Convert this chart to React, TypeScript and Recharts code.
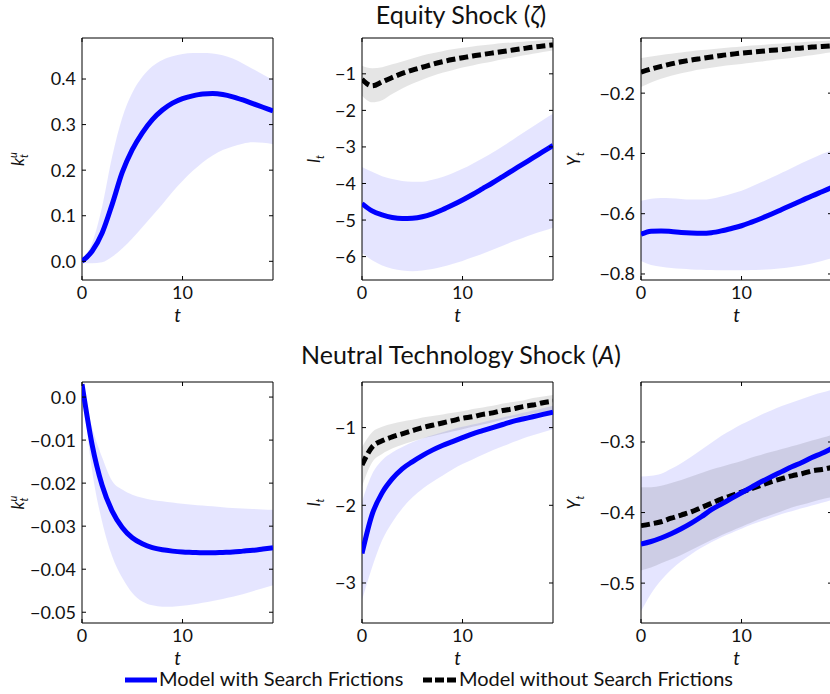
import React from "react";
import { ComposedChart, Area, Line, XAxis, YAxis, ReferenceArea } from "recharts";

// periods of the impulse responses
const periods = [0, 1, 2, 3, 4, 5, 6, 7, 8, 9, 10, 11, 12, 13, 14, 15, 16, 17, 18, 19];
const xTicks = [0, 10];
const xTickLabels = ["0", "10"];

// Equity shock, k^u
const eqKBlue = [0.0, 0.022, 0.062, 0.125, 0.195, 0.245, 0.282, 0.311, 0.332, 0.347, 0.357, 0.363, 0.367, 0.368, 0.366, 0.361, 0.354, 0.346, 0.338, 0.33];
const eqKBlueHi = [0.005, 0.04, 0.12, 0.23, 0.315, 0.37, 0.405, 0.428, 0.442, 0.45, 0.455, 0.457, 0.457, 0.456, 0.452, 0.445, 0.434, 0.422, 0.41, 0.398];
const eqKBlueLo = [-0.004, -0.004, -0.002, 0.01, 0.028, 0.05, 0.075, 0.1, 0.125, 0.152, 0.176, 0.198, 0.217, 0.232, 0.244, 0.252, 0.258, 0.261, 0.26, 0.257];

// Equity shock, l
const eqLBlue = [-4.55, -4.75, -4.86, -4.93, -4.96, -4.95, -4.91, -4.83, -4.72, -4.59, -4.45, -4.3, -4.14, -3.98, -3.81, -3.64, -3.47, -3.3, -3.13, -2.96];
const eqLBlueHi = [-3.55, -3.68, -3.8, -3.88, -3.93, -3.95, -3.95, -3.9, -3.82, -3.72, -3.6, -3.46, -3.31, -3.15, -2.98, -2.8, -2.62, -2.44, -2.26, -2.09];
const eqLBlueLo = [-5.9, -6.1, -6.24, -6.33, -6.38, -6.4, -6.38, -6.34, -6.28, -6.2, -6.12, -6.02, -5.92, -5.81, -5.7, -5.59, -5.49, -5.39, -5.3, -5.21];
const eqLBlack = [-1.15, -1.33, -1.22, -1.1, -0.99, -0.9, -0.82, -0.74, -0.67, -0.61, -0.56, -0.51, -0.47, -0.43, -0.39, -0.35, -0.31, -0.27, -0.24, -0.21];
const eqLBlackHi = [-0.78, -0.85, -0.82, -0.74, -0.66, -0.58, -0.5, -0.44, -0.38, -0.33, -0.29, -0.25, -0.22, -0.19, -0.16, -0.14, -0.12, -0.1, -0.08, -0.07];
const eqLBlackLo = [-1.6, -1.78, -1.72, -1.55, -1.4, -1.27, -1.16, -1.06, -0.97, -0.9, -0.83, -0.77, -0.71, -0.66, -0.6, -0.55, -0.5, -0.45, -0.4, -0.36];

// Equity shock, Y
const eqYBlue = [-0.668, -0.658, -0.657, -0.659, -0.662, -0.664, -0.665, -0.663, -0.657, -0.649, -0.64, -0.628, -0.615, -0.601, -0.586, -0.571, -0.556, -0.541, -0.527, -0.513];
const eqYBlueHi = [-0.557, -0.55, -0.548, -0.549, -0.551, -0.553, -0.553, -0.55, -0.543, -0.534, -0.524, -0.51, -0.495, -0.48, -0.464, -0.448, -0.432, -0.417, -0.402, -0.39];
const eqYBlueLo = [-0.757, -0.77, -0.776, -0.78, -0.783, -0.785, -0.786, -0.787, -0.788, -0.788, -0.788, -0.787, -0.786, -0.784, -0.781, -0.777, -0.772, -0.765, -0.757, -0.748];
const eqYBlack = [-0.13, -0.12, -0.111, -0.103, -0.096, -0.09, -0.085, -0.08, -0.075, -0.071, -0.067, -0.064, -0.061, -0.058, -0.055, -0.052, -0.05, -0.047, -0.045, -0.043];
const eqYBlackHi = [-0.083, -0.078, -0.073, -0.069, -0.065, -0.061, -0.057, -0.054, -0.051, -0.048, -0.045, -0.042, -0.04, -0.037, -0.035, -0.033, -0.031, -0.029, -0.027, -0.025];
const eqYBlackLo = [-0.18, -0.165, -0.152, -0.142, -0.134, -0.127, -0.121, -0.116, -0.111, -0.107, -0.103, -0.099, -0.095, -0.091, -0.087, -0.083, -0.078, -0.074, -0.069, -0.064];

// Neutral technology shock, k^u
const tcKBlue = [0.003, -0.011, -0.0205, -0.0265, -0.0303, -0.0327, -0.0341, -0.035, -0.0355, -0.0358, -0.036, -0.0361, -0.0362, -0.0362, -0.0361, -0.036, -0.0358, -0.0356, -0.0353, -0.035];
const tcKBlueHi = [0.003, -0.007, -0.014, -0.0195, -0.0215, -0.0227, -0.0234, -0.0239, -0.0242, -0.0245, -0.0248, -0.025, -0.0252, -0.0254, -0.0256, -0.0258, -0.0259, -0.026, -0.0261, -0.0262];
const tcKBlueLo = [0.003, -0.017, -0.029, -0.037, -0.042, -0.0455, -0.0475, -0.0484, -0.0487, -0.0487, -0.0485, -0.0482, -0.0478, -0.0474, -0.0469, -0.0464, -0.0458, -0.0451, -0.0444, -0.0437];

// Neutral technology shock, l
const tcLBlue = [-2.62, -2.12, -1.84, -1.66, -1.53, -1.44, -1.36, -1.29, -1.23, -1.18, -1.13, -1.08, -1.04, -1.0, -0.96, -0.92, -0.89, -0.86, -0.83, -0.8];
const tcLBlueHi = [-1.95, -1.6, -1.42, -1.32, -1.25, -1.19, -1.14, -1.1, -1.06, -1.02, -0.99, -0.96, -0.93, -0.9, -0.87, -0.84, -0.81, -0.78, -0.75, -0.72];
const tcLBlueLo = [-3.22, -2.8, -2.45, -2.22, -2.04, -1.9, -1.79, -1.7, -1.62, -1.54, -1.47, -1.41, -1.35, -1.29, -1.24, -1.19, -1.14, -1.1, -1.06, -1.02];
const tcLBlack = [-1.48, -1.25, -1.17, -1.12, -1.08, -1.04, -1.0, -0.97, -0.94, -0.91, -0.88, -0.86, -0.83, -0.81, -0.78, -0.76, -0.73, -0.71, -0.68, -0.66];
const tcLBlackHi = [-1.25, -1.06, -0.99, -0.95, -0.92, -0.9, -0.87, -0.85, -0.83, -0.81, -0.79, -0.76, -0.74, -0.72, -0.69, -0.67, -0.65, -0.62, -0.6, -0.58];
const tcLBlackLo = [-1.76, -1.45, -1.34, -1.27, -1.22, -1.18, -1.14, -1.11, -1.08, -1.05, -1.02, -0.99, -0.96, -0.93, -0.9, -0.87, -0.85, -0.82, -0.8, -0.77];

// Neutral technology shock, Y
const tcYBlue = [-0.4445, -0.441, -0.436, -0.43, -0.423, -0.415, -0.406, -0.396, -0.388, -0.38, -0.372, -0.364, -0.356, -0.349, -0.342, -0.335, -0.329, -0.322, -0.316, -0.309];
const tcYBlueHi = [-0.349, -0.348, -0.345, -0.338, -0.33, -0.321, -0.311, -0.301, -0.291, -0.283, -0.275, -0.268, -0.261, -0.255, -0.249, -0.244, -0.239, -0.234, -0.23, -0.226];
const tcYBlueLo = [-0.54, -0.515, -0.496, -0.481, -0.469, -0.459, -0.45, -0.442, -0.435, -0.429, -0.423, -0.417, -0.412, -0.407, -0.402, -0.398, -0.394, -0.39, -0.386, -0.382];
const tcYBlack = [-0.4186, -0.416, -0.413, -0.408, -0.4035, -0.399, -0.393, -0.387, -0.381, -0.376, -0.371, -0.366, -0.361, -0.356, -0.352, -0.348, -0.345, -0.341, -0.339, -0.336];
const tcYBlackHi = [-0.364, -0.364, -0.362, -0.358, -0.354, -0.349, -0.344, -0.339, -0.335, -0.331, -0.327, -0.322, -0.318, -0.314, -0.31, -0.306, -0.302, -0.298, -0.294, -0.29];
const tcYBlackLo = [-0.482, -0.478, -0.472, -0.466, -0.46, -0.453, -0.446, -0.439, -0.432, -0.426, -0.42, -0.414, -0.408, -0.403, -0.398, -0.393, -0.389, -0.385, -0.381, -0.378];

// y ticks and labels per panel
const eqKTicks = [0, 0.1, 0.2, 0.3, 0.4];
const eqKLabels = ["0.0", "0.1", "0.2", "0.3", "0.4"];
const eqLTicks = [-6, -5, -4, -3, -2, -1];
const eqLLabels = ["\u22126", "\u22125", "\u22124", "\u22123", "\u22122", "\u22121"];
const eqYTicks = [-0.8, -0.6, -0.4, -0.2];
const eqYLabels = ["\u22120.8", "\u22120.6", "\u22120.4", "\u22120.2"];
const tcKTicks = [-0.05, -0.04, -0.03, -0.02, -0.01, 0];
const tcKLabels = ["\u22120.05", "\u22120.04", "\u22120.03", "\u22120.02", "\u22120.01", "0.0"];
const tcLTicks = [-3, -2, -1];
const tcLLabels = ["\u22123", "\u22122", "\u22121"];
const tcYTicks = [-0.5, -0.4, -0.3];
const tcYLabels = ["\u22120.5", "\u22120.4", "\u22120.3"];

const FONT = "Lato, 'Open Sans', sans-serif";
const BLUE = "#0000ff";
const INK = "#111";
const PLOT_W = 191;
const AXIS_W = 70;
const PAD = 10;
const XAX_H = 50;
const GAP = 6;
const TICK = 4;
const TICK_FS = 18;

type Row = { t: number; blue: number; blueBand: [number, number]; black?: number; blackBand?: [number, number] };

function makeRows(blue: number[], lo: number[], hi: number[], black?: number[], bLo?: number[], bHi?: number[]): Row[] {
  return periods.map((t, i) => ({
    t,
    blue: blue[i],
    blueBand: [lo[i], hi[i]],
    black: black ? black[i] : undefined,
    blackBand: bLo && bHi ? [bLo[i], bHi[i]] : undefined,
  }));
}

function YTick(props: any) {
  const { x, y, payload, ticks, labels } = props;
  const edge = x + GAP;
  const i = ticks.indexOf(payload.value);
  return (
    <g>
      <line x1={edge} x2={edge + TICK} y1={y} y2={y} stroke="#000" />
      <line x1={edge + PLOT_W - TICK} x2={edge + PLOT_W} y1={y} y2={y} stroke="#000" />
      <text x={x} y={y} dy="0.36em" textAnchor="end" fontSize={TICK_FS} fontFamily={FONT} fill={INK}>
        {labels[i]}
      </text>
    </g>
  );
}

function XTick(props: any) {
  const { x, y, payload, plotH } = props;
  const bottom = y - GAP;
  const i = xTicks.indexOf(payload.value);
  return (
    <g>
      <line x1={x} x2={x} y1={bottom} y2={bottom - TICK} stroke="#000" />
      <line x1={x} x2={x} y1={bottom - plotH} y2={bottom - plotH + TICK} stroke="#000" />
      <text x={x} y={y} dy="0.72em" textAnchor="middle" fontSize={TICK_FS} fontFamily={FONT} fill={INK}>
        {xTickLabels[i]}
      </text>
    </g>
  );
}

function Panel(p: {
  left: number; top: number; plotH: number; rows: Row[];
  domain: [number, number]; ticks: number[]; labels: string[]; withBlack: boolean;
}) {
  const width = AXIS_W + PLOT_W + PAD;
  const height = PAD + p.plotH + XAX_H;
  return (
    <div style={{ position: "absolute", left: p.left - AXIS_W, top: p.top - PAD }}>
      <ComposedChart width={width} height={height} data={p.rows} margin={{ top: PAD, right: PAD, bottom: 0, left: 0 }}>
        <XAxis
          dataKey="t" type="number" domain={[0, 19]} ticks={xTicks} interval={0} allowDataOverflow
          axisLine={false} tickLine={false} tickSize={0} tickMargin={GAP} height={XAX_H}
          tick={(tp: any) => <XTick {...tp} plotH={p.plotH} />}
        />
        <YAxis
          type="number" domain={p.domain} ticks={p.ticks} interval={0} allowDataOverflow
          axisLine={false} tickLine={false} tickSize={0} tickMargin={GAP} width={AXIS_W}
          tick={(tp: any) => <YTick {...tp} ticks={p.ticks} labels={p.labels} />}
        />
        <Area dataKey="blueBand" type="monotone" stroke="none" fill={BLUE} fillOpacity={0.1} isAnimationActive={false} />
        {p.withBlack && (
          <Area dataKey="blackBand" type="monotone" stroke="none" fill="#000" fillOpacity={0.1} isAnimationActive={false} />
        )}
        {p.withBlack && (
          <Line dataKey="black" type="monotone" stroke="#000" strokeWidth={5} strokeDasharray="9 4" dot={false} isAnimationActive={false} />
        )}
        <Line dataKey="blue" type="monotone" stroke={BLUE} strokeWidth={5} dot={false} isAnimationActive={false} />
        <ReferenceArea x1={0} x2={19} y1={p.domain[0]} y2={p.domain[1]} fill="none" stroke="#000" strokeWidth={1} ifOverflow="visible" />
      </ComposedChart>
    </div>
  );
}

const COL_LEFT = [82, 362, 641];
const ROW_TOP = [38, 382];
const ROW_H = [242, 241];
// distance from plot's left edge to the rotated label's baseline
const LABEL_DIST = [58, 42, 61];

function RotLabel({ cx, cy, base, sub, sup }: { cx: number; cy: number; base: string; sub: string; sup?: string }) {
  return (
    <text transform={`translate(${cx},${cy}) rotate(-90)`} textAnchor="middle" fontSize={17} fontStyle="italic" fontFamily={FONT} fill={INK}>
      {base}
      {sup ? (
        <>
          <tspan fontSize={11} dy={-7}>{sup}</tspan>
          <tspan fontSize={11} dx={-6} dy={11}>{sub}</tspan>
        </>
      ) : (
        <tspan fontSize={11} dy={4}>{sub}</tspan>
      )}
    </text>
  );
}

export default function App() {
  const eqK = makeRows(eqKBlue, eqKBlueLo, eqKBlueHi);
  const eqL = makeRows(eqLBlue, eqLBlueLo, eqLBlueHi, eqLBlack, eqLBlackLo, eqLBlackHi);
  const eqY = makeRows(eqYBlue, eqYBlueLo, eqYBlueHi, eqYBlack, eqYBlackLo, eqYBlackHi);
  const tcK = makeRows(tcKBlue, tcKBlueLo, tcKBlueHi);
  const tcL = makeRows(tcLBlue, tcLBlueLo, tcLBlueHi, tcLBlack, tcLBlackLo, tcLBlackHi);
  const tcY = makeRows(tcYBlue, tcYBlueLo, tcYBlueHi, tcYBlack, tcYBlackLo, tcYBlackHi);

  const midY0 = ROW_TOP[0] + ROW_H[0] / 2;
  const midY1 = ROW_TOP[1] + ROW_H[1] / 2;

  return (
    <div style={{ position: "absolute", left: 0, top: 0, width: 830, height: 694, overflow: "hidden", background: "#fff", fontFamily: FONT }}>
      <Panel left={COL_LEFT[0]} top={ROW_TOP[0]} plotH={ROW_H[0]} rows={eqK} domain={[-0.041, 0.49]} ticks={eqKTicks} labels={eqKLabels} withBlack={false} />
      <Panel left={COL_LEFT[1]} top={ROW_TOP[0]} plotH={ROW_H[0]} rows={eqL} domain={[-6.64, -0.02]} ticks={eqLTicks} labels={eqLLabels} withBlack />
      <Panel left={COL_LEFT[2]} top={ROW_TOP[0]} plotH={ROW_H[0]} rows={eqY} domain={[-0.82, -0.017]} ticks={eqYTicks} labels={eqYLabels} withBlack />
      <Panel left={COL_LEFT[0]} top={ROW_TOP[1]} plotH={ROW_H[1]} rows={tcK} domain={[-0.0525, 0.0035]} ticks={tcKTicks} labels={tcKLabels} withBlack={false} />
      <Panel left={COL_LEFT[1]} top={ROW_TOP[1]} plotH={ROW_H[1]} rows={tcL} domain={[-3.515, -0.413]} ticks={tcLTicks} labels={tcLLabels} withBlack />
      <Panel left={COL_LEFT[2]} top={ROW_TOP[1]} plotH={ROW_H[1]} rows={tcY} domain={[-0.5565, -0.215]} ticks={tcYTicks} labels={tcYLabels} withBlack />

      <svg width={830} height={694} style={{ position: "absolute", left: 0, top: 0, pointerEvents: "none" }}>
        <text x={461} y={24} textAnchor="middle" fontSize={25} fontFamily={FONT} fill={INK}>
          Equity Shock (<tspan fontStyle="italic">ζ</tspan>)
        </text>
        <text x={461} y={364} textAnchor="middle" fontSize={25} fontFamily={FONT} fill={INK}>
          Neutral Technology Shock (<tspan fontStyle="italic">A</tspan>)
        </text>

        <RotLabel cx={COL_LEFT[0] - LABEL_DIST[0]} cy={midY0} base="k" sup="u" sub="t" />
        <RotLabel cx={COL_LEFT[1] - LABEL_DIST[1]} cy={midY0} base="l" sub="t" />
        <RotLabel cx={COL_LEFT[2] - LABEL_DIST[2]} cy={midY0} base="Y" sub="t" />
        <RotLabel cx={COL_LEFT[0] - LABEL_DIST[0]} cy={midY1} base="k" sup="u" sub="t" />
        <RotLabel cx={COL_LEFT[1] - LABEL_DIST[1]} cy={midY1} base="l" sub="t" />
        <RotLabel cx={COL_LEFT[2] - LABEL_DIST[2]} cy={midY1} base="Y" sub="t" />

        {COL_LEFT.map((l) => (
          <g key={l}>
            <text x={l + PLOT_W / 2} y={ROW_TOP[0] + ROW_H[0] + 42} textAnchor="middle" fontSize={19} fontStyle="italic" fontFamily={FONT} fill={INK}>t</text>
            <text x={l + PLOT_W / 2} y={ROW_TOP[1] + ROW_H[1] + 42} textAnchor="middle" fontSize={19} fontStyle="italic" fontFamily={FONT} fill={INK}>t</text>
          </g>
        ))}

        <line x1={125} x2={157} y1={680} y2={680} stroke={BLUE} strokeWidth={5} />
        <text x={159} y={686} fontSize={20} fontFamily={FONT} fill={INK}>Model with Search Frictions</text>
        <line x1={423} x2={456} y1={680} y2={680} stroke="#000" strokeWidth={5} strokeDasharray="9 3" />
        <text x={459} y={686} fontSize={20} fontFamily={FONT} fill={INK}>Model without Search Frictions</text>
      </svg>
    </div>
  );
}
